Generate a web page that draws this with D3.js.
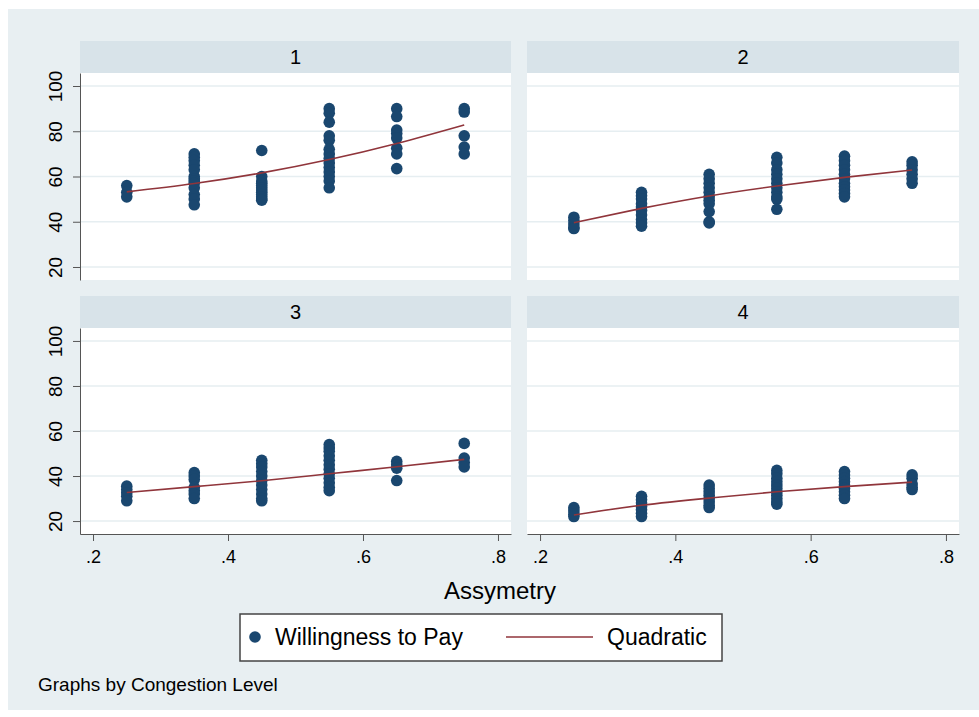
<!DOCTYPE html>
<html>
<head>
<meta charset="utf-8">
<script src="https://cdn.jsdelivr.net/npm/d3@7"></script>
<style>
    body { margin: 0; background: #fff; }
    svg { display: block; font-family: "Liberation Sans", Arial, Helvetica, sans-serif; }
</style>
</head>
<body>
<svg id="chart" width="979" height="717"></svg>
<script>
// Asymmetry levels used on the x axis (one column of dots per level)
const xLevels = [0.25, 0.35, 0.45, 0.55, 0.65, 0.75];
const xTicks = [0.2, 0.4, 0.6, 0.8];
const yTicks = [20, 40, 60, 80, 100];
const panelNames = ['1', '2', '3', '4'];

// Willingness to pay, one list per asymmetry level
const wtp1 = [
    [56, 53, 51],
    [70, 68.5, 67, 65, 63, 60, 59, 58, 57, 55, 52, 50, 47.5],
    [71.5, 60, 58, 57, 56, 55, 54, 53, 52, 51, 50, 49.5],
    [90, 88, 84, 78, 76, 72, 70, 68, 66, 64, 62, 60, 58, 55],
    [90, 86.5, 80.5, 79, 77, 72.5, 70, 63.5],
    [90, 88.5, 78, 73, 70]
];
const wtp2 = [
    [42, 40.5, 39, 37.5, 37],
    [53, 51.5, 50, 48, 46.5, 45, 43, 41, 39.5, 38],
    [61, 59, 57, 55, 53, 51, 49.5, 48, 44.5, 40, 39.5],
    [68.5, 66, 63, 61, 59, 57, 55, 53, 51, 50, 45.5],
    [69, 67, 65, 63, 61, 59, 57, 55.5, 54, 52.5, 51],
    [66.5, 65, 63, 61, 59, 57]
];
const wtp3 = [
    [35.5, 34, 32.5, 31, 29],
    [41.5, 40, 38.5, 35, 33.5, 32, 30],
    [47, 45.5, 44, 42, 40, 38, 36, 34, 32, 30, 29],
    [54, 52.5, 51, 49, 47, 45, 43, 41, 39, 37, 35, 33.5],
    [46.5, 45, 43.5, 38],
    [54.5, 48, 46, 44]
];
const wtp4 = [
    [26, 24.5, 23, 22],
    [31, 29.5, 28, 26.5, 25, 23.5, 22],
    [36, 34.5, 33, 31.5, 30, 28.5, 27, 26],
    [42.5, 41, 39, 37.5, 36, 34.5, 33, 31.5, 30, 28.5, 27.5],
    [42, 40.5, 39, 37.5, 36, 34.5, 33, 31.5, 30],
    [40.5, 39, 36.5, 35, 34]
];

// Quadratic fit read at each asymmetry level
const fit1 = [53.2, 56.9, 61.6, 67.5, 74.6, 82.8];
const fit2 = [39.6, 45.9, 51.4, 55.8, 59.6, 62.9];
const fit3 = [32.7, 35.3, 37.9, 41.0, 44.1, 47.4];
const fit4 = [22.7, 27.0, 30.2, 33.0, 35.3, 37.3];

const navy = '#1a476f';
const maroon = '#90353b';
const regionBg = '#e8eff2';
const stripBg = '#d8e3e9';
const gridColor = '#e6eef1';
const axisColor = '#555';

let svg = d3.select('#chart');

svg.append('rect')
    .attr('x', 8).attr('y', 9)
    .attr('width', 971).attr('height', 701)
    .attr('fill', regionBg);

// panel boxes: [left, right] per column, [stripTop, plotTop, plotBottom] per row
let cols = [[80, 511], [527, 959]];
let rows = [[41, 73, 280], [296, 328, 534]];
let wtpAll = [wtp1, wtp2, wtp3, wtp4];
let fitAll = [fit1, fit2, fit3, fit4];

let fmtX = d => d3.format('.1f')(d).replace(/^0/, '');

panelNames.forEach((name, p) => {
    let [left, right] = cols[p % 2];
    let [stripTop, top, bottom] = rows[Math.floor(p / 2)];

    let x = d3.scaleLinear().domain([0.1807, 0.8193]).range([left, right]);
    let y = d3.scaleLinear().domain([14.25, 105.75]).range([bottom, top]);

    let g = svg.append('g');

    // header strip
    g.append('rect')
        .attr('x', left).attr('y', stripTop)
        .attr('width', right - left).attr('height', top - stripTop)
        .attr('fill', stripBg);
    g.append('text')
        .attr('x', (left + right) / 2).attr('y', stripTop + 23)
        .attr('text-anchor', 'middle')
        .attr('font-size', 20)
        .text(name);

    // plot area and grid
    g.append('rect')
        .attr('x', left).attr('y', top)
        .attr('width', right - left).attr('height', bottom - top)
        .attr('fill', '#fff');
    g.selectAll('line.grid')
        .data(yTicks)
        .join('line')
        .attr('class', 'grid')
        .attr('x1', left).attr('x2', right)
        .attr('y1', d => y(d)).attr('y2', d => y(d))
        .attr('stroke', gridColor)
        .attr('stroke-width', 1.5);

    // y axis on the left column only
    if (p % 2 === 0) {
        let ay = g.append('g')
            .attr('transform', `translate(${left},0)`)
            .call(d3.axisLeft(y).tickValues(yTicks).tickSize(7).tickSizeOuter(0));
        ay.select('.domain').attr('stroke', axisColor);
        ay.selectAll('.tick line').attr('stroke', axisColor);
        ay.selectAll('.tick text')
            .attr('x', 0).attr('dy', 0)
            .attr('text-anchor', 'middle')
            .attr('transform', 'translate(-18,0) rotate(-90)')
            .attr('font-size', 19)
            .attr('font-family', null)
            .attr('fill', '#000');
    }

    // x axis on the bottom row only
    if (p >= 2) {
        let ax = g.append('g')
            .attr('transform', `translate(0,${bottom})`)
            .call(d3.axisBottom(x).tickValues(xTicks).tickFormat(fmtX)
                .tickSize(7).tickSizeOuter(0).tickPadding(9));
        ax.select('.domain').attr('stroke', axisColor);
        ax.selectAll('.tick line').attr('stroke', axisColor);
        ax.selectAll('.tick text')
            .attr('font-size', 18)
            .attr('font-family', null)
            .attr('fill', '#000');
    }

    // dots
    let pts = [];
    wtpAll[p].forEach((vals, i) => vals.forEach(v => pts.push([xLevels[i], v])));
    g.selectAll('circle')
        .data(pts)
        .join('circle')
        .attr('cx', d => x(d[0]))
        .attr('cy', d => y(d[1]))
        .attr('r', 5.8)
        .attr('fill', navy);

    // quadratic fit
    let line = d3.line()
        .x((d, i) => x(xLevels[i]))
        .y(d => y(d))
        .curve(d3.curveNatural);
    g.append('path')
        .datum(fitAll[p])
        .attr('d', line)
        .attr('fill', 'none')
        .attr('stroke', maroon)
        .attr('stroke-width', 1.6);
});

// axis title
svg.append('text')
    .attr('x', 500).attr('y', 599)
    .attr('text-anchor', 'middle')
    .attr('font-size', 24)
    .text('Assymetry');

// legend
let legend = svg.append('g');
legend.append('rect')
    .attr('x', 240).attr('y', 614)
    .attr('width', 482).attr('height', 47)
    .attr('fill', '#fff')
    .attr('stroke', '#444')
    .attr('stroke-width', 1.5);
legend.append('circle')
    .attr('cx', 255).attr('cy', 637).attr('r', 5.8)
    .attr('fill', navy);
legend.append('text')
    .attr('x', 275).attr('y', 645)
    .attr('font-size', 23)
    .text('Willingness to Pay');
legend.append('line')
    .attr('x1', 506).attr('x2', 593)
    .attr('y1', 637).attr('y2', 637)
    .attr('stroke', maroon)
    .attr('stroke-width', 1.6);
legend.append('text')
    .attr('x', 607).attr('y', 645)
    .attr('font-size', 23)
    .text('Quadratic');

// note
svg.append('text')
    .attr('x', 38).attr('y', 691)
    .attr('font-size', 19)
    .text('Graphs by Congestion Level');
</script>
</body>
</html>
